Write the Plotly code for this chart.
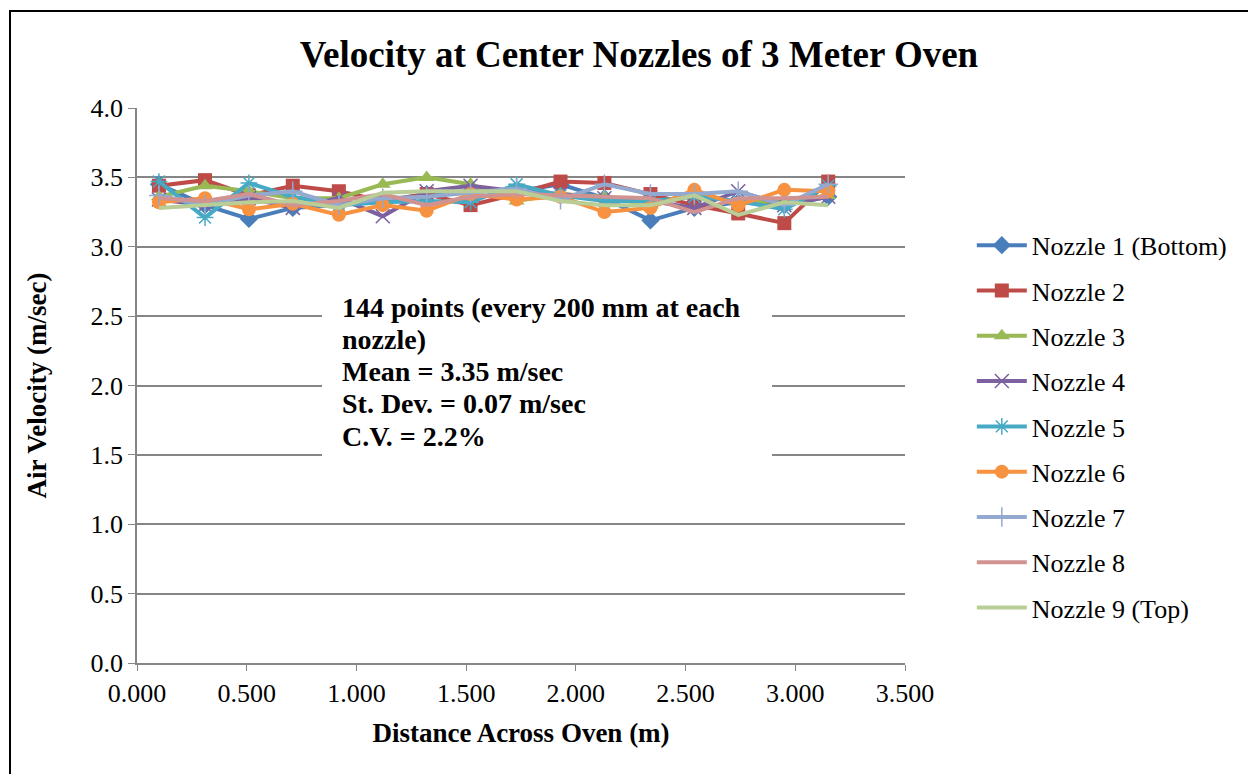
import plotly.graph_objects as go

distance_m = [0.10, 0.31, 0.51, 0.71, 0.92, 1.12, 1.32, 1.52, 1.73, 1.93, 2.13, 2.34, 2.54, 2.74, 2.95, 3.15]

nozzle_1 = [3.45, 3.30, 3.20, 3.28, 3.30, 3.33, 3.38, 3.40, 3.40, 3.45, 3.35, 3.19, 3.28, 3.32, 3.30, 3.36]
nozzle_2 = [3.44, 3.48, 3.37, 3.44, 3.40, 3.33, 3.38, 3.30, 3.38, 3.47, 3.46, 3.38, 3.30, 3.24, 3.17, 3.47]
nozzle_3 = [3.36, 3.44, 3.40, 3.35, 3.35, 3.45, 3.50, 3.45, 3.33, 3.38, 3.36, 3.30, 3.38, 3.32, 3.33, 3.37]
nozzle_4 = [3.34, 3.30, 3.35, 3.28, 3.35, 3.22, 3.40, 3.44, 3.40, 3.38, 3.35, 3.33, 3.28, 3.40, 3.30, 3.36]
nozzle_5 = [3.47, 3.21, 3.46, 3.36, 3.30, 3.32, 3.33, 3.32, 3.45, 3.37, 3.33, 3.33, 3.36, 3.33, 3.27, 3.44]
nozzle_6 = [3.32, 3.35, 3.27, 3.31, 3.23, 3.30, 3.26, 3.38, 3.34, 3.36, 3.25, 3.28, 3.41, 3.30, 3.41, 3.40]
nozzle_7 = [3.37, 3.30, 3.37, 3.40, 3.30, 3.35, 3.36, 3.39, 3.42, 3.34, 3.45, 3.38, 3.38, 3.40, 3.30, 3.45]
nozzle_8 = [3.35, 3.33, 3.38, 3.30, 3.33, 3.38, 3.30, 3.36, 3.38, 3.37, 3.36, 3.35, 3.25, 3.35, 3.35, 3.36]
nozzle_9 = [3.28, 3.30, 3.32, 3.33, 3.28, 3.39, 3.40, 3.40, 3.40, 3.33, 3.30, 3.30, 3.37, 3.23, 3.32, 3.30]

series_names = ["Nozzle 1 (Bottom)", "Nozzle 2", "Nozzle 3", "Nozzle 4", "Nozzle 5",
                "Nozzle 6", "Nozzle 7", "Nozzle 8", "Nozzle 9 (Top)"]
series_values = [nozzle_1, nozzle_2, nozzle_3, nozzle_4, nozzle_5,
                 nozzle_6, nozzle_7, nozzle_8, nozzle_9]
colors = ["#4A7EBB", "#BE4B48", "#98B954", "#7D60A0", "#46AAC5",
          "#F69240", "#93A9CF", "#D19392", "#B9CD96"]
symbols = ["diamond", "square", "triangle-up", "x-thin-open", "asterisk-open",
           "circle", "cross-thin-open", None, None]

stats_lines = ["144 points (every 200 mm at each", "nozzle)", "Mean = 3.35 m/sec",
               "St. Dev. = 0.07 m/sec", "C.V. = 2.2%"]

y_ticks = [0.0, 0.5, 1.0, 1.5, 2.0, 2.5, 3.0, 3.5, 4.0]
x_ticks = [0.0, 0.5, 1.0, 1.5, 2.0, 2.5, 3.0, 3.5]

FONT = "Liberation Serif"

fig = go.Figure()
for i, (name, vals, col, sym) in enumerate(zip(series_names, series_values, colors, symbols)):
    if sym is None:
        mode = "lines"
        marker = None
    else:
        mode = "lines+markers"
        thin = ("thin" in sym) or ("asterisk" in sym)
        marker = dict(symbol=sym, size=14, color=col,
                      line=dict(color=col, width=1.5 if thin else 0))
    fig.add_trace(go.Scatter(
        x=distance_m, y=vals, name=name, mode=mode,
        line=dict(color=col, width=4), marker=marker,
        legendgroup=f"g{i}",
    ))

fig.update_layout(
    width=1248, height=774,
    margin=dict(l=137, r=343, t=108, b=111),
    paper_bgcolor="white", plot_bgcolor="white",
    font=dict(family=FONT, size=20, color="black"),
    title=dict(text="<b>Velocity at Center Nozzles of 3 Meter Oven</b>",
               font=dict(family=FONT, size=37, color="black"),
               x=0.512, xanchor="center", y=0.93, yanchor="middle"),
    showlegend=True,
    legend=dict(x=1.087, xanchor="left", y=0.795, yanchor="top",
                font=dict(family=FONT, size=26, color="black"),
                traceorder="grouped", tracegroupgap=8.5, itemwidth=50,
                bgcolor="rgba(0,0,0,0)"),
    xaxis=dict(range=[0, 3.5], tickvals=x_ticks, tickformat=".3f",
               showgrid=False, showline=True, linecolor="#868686", linewidth=1.5,
               ticks="outside", ticklen=6, tickcolor="#868686",
               tickfont=dict(family=FONT, size=26),
               title=dict(text="<b>Distance Across Oven (m)</b>", font=dict(family=FONT, size=27), standoff=16),
               zeroline=False),
    yaxis=dict(range=[0, 4.0], tickvals=y_ticks, tickformat=".1f",
               showgrid=True, gridcolor="#868686", gridwidth=1.5,
               showline=True, linecolor="#868686", linewidth=1.5,
               ticks="outside", ticklen=7, tickcolor="#868686",
               tickfont=dict(family=FONT, size=26),
               title=dict(text="<b>Air Velocity (m/sec)</b>", font=dict(family=FONT, size=27), standoff=36),
               zeroline=False),
)

# chart border
fig.add_shape(type="rect", xref="paper", yref="paper",
              x0=(10 - 137) / 768, x1=(1252 - 137) / 768,
              y0=-(778 - 663) / 555, y1=1 + (108 - 11) / 555,
              line=dict(color="black", width=2), fillcolor="rgba(0,0,0,0)", layer="below")

# statistics text box
fig.add_shape(type="rect", xref="paper", yref="paper",
              x0=(322 - 137) / 768, x1=(772 - 137) / 768,
              y0=1 - (462 - 108) / 555, y1=1 - (285 - 108) / 555,
              line=dict(width=0), fillcolor="white", layer="above")
for k, line in enumerate(stats_lines):
    yc = 307 + k * 32.3
    fig.add_annotation(
        xref="paper", yref="paper", x=(340 - 137) / 768, y=1 - (yc - 108) / 555,
        xanchor="left", yanchor="middle", align="left", showarrow=False,
        text=f"<b>{line}</b>",
        font=dict(family=FONT, size=28, color="black"),
    )

fig.write_html("out.html")
